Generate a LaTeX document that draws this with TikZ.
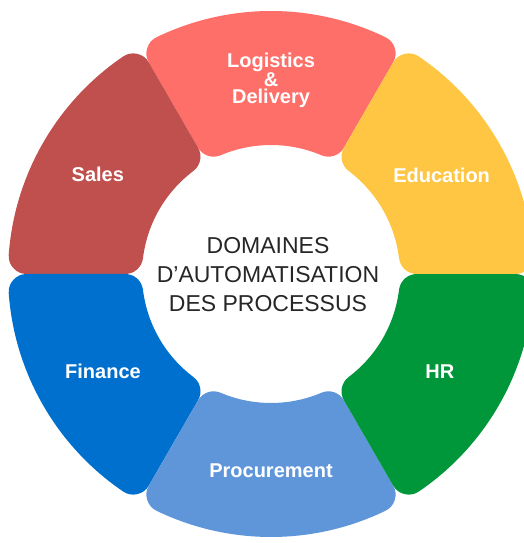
\documentclass[tikz,border=0pt]{standalone}
\usepackage{fontspec}
\setmainfont{Liberation Sans}
\definecolor{logicol}{HTML}{FF6F69}
\definecolor{salescol}{HTML}{C0504D}
\definecolor{fincol}{HTML}{0070CE}
\definecolor{procol}{HTML}{5F96DA}
\definecolor{hrcol}{HTML}{00963A}
\definecolor{educol}{HTML}{FEC643}
\tikzset{
  segment/.style = {line width = 36pt, line join = round},
  seglabel/.style = {text = white, align = center, font = \bfseries\fontsize{20}{17}\selectfont},
  centretext/.style = {text = black!85, align = center, font = \fontsize{23}{29}\selectfont}
}
\begin{document}
\begin{tikzpicture}[x = 1pt, y = 1pt]
	\useasboundingbox (0,0) rectangle (524,543);
	\begin{scope}[shift = {(271,269)}]
		\foreach \a/\col in {60/logicol, 120/salescol, 180/fincol, 240/procol, 300/hrcol, 0/educol}{
			\pgfmathsetmacro\b{\a + 60}
			\pgfmathsetmacro\do{asin(18/245)}
			\pgfmathsetmacro\di{asin(18/147)}
			\draw[segment, draw = \col, fill = \col] ({\a + \do}:245pt)
				arc[start angle = {\a + \do}, end angle = {\b - \do}, radius = 245pt]
				-- ({\b - \di}:147pt)
				arc[start angle = {\b - \di}, end angle = {\a + \di}, radius = 147pt] -- cycle;
			}
		\node[seglabel] (logistics) at (90:194pt) {Logistics\\\&\\Delivery};
		\node[seglabel] (sales) at (150:200pt) {Sales};
		\node[seglabel] (finance) at (210:194pt) {Finance};
		\node[seglabel] (procurement) at (270:197pt) {Procurement};
		\node[seglabel] (hr) at (330:195pt) {HR};
		\node[seglabel] (education) at (30:197pt) {Education};
		\node[centretext] (title) at (-3,-1) {DOMAINES\\D’AUTOMATISATION\\DES PROCESSUS};
	\end{scope}
\end{tikzpicture}
\end{document}
